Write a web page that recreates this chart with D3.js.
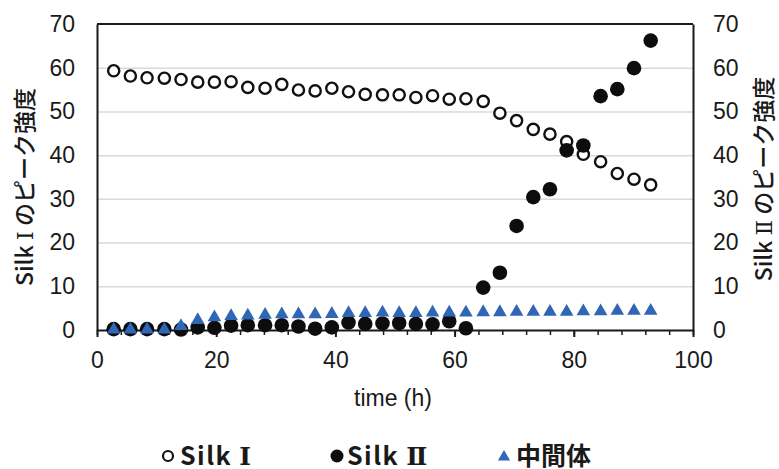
<!DOCTYPE html>
<html>
<head>
<meta charset="utf-8">
<script src="https://cdn.jsdelivr.net/npm/d3@7"></script>
<style>
  body { margin: 0; background: #fff; }
  svg text { fill: #1a1a1a; }
  .tick-label { font-family: "Liberation Sans", Arial, sans-serif; font-size: 23px; }
  .axis-title { font-family: "Noto Sans CJK JP", "Liberation Sans", sans-serif; font-size: 23px; font-weight: 500; }
  .legend-text { font-family: "Noto Sans CJK JP", "Liberation Sans", sans-serif; font-size: 25px; font-weight: bold; }
  .legend-latin { letter-spacing: 1.5px; }
  .roman { font-family: "DejaVu Serif", "Liberation Serif", serif; }
</style>
</head>
<body>
<div id="chart"></div>
<script>
// time (h) of each measurement
const times = [2.8, 5.6, 8.4, 11.3, 14.1, 16.9, 19.7, 22.5, 25.3, 28.2, 31.0,
  33.8, 36.6, 39.4, 42.2, 45.0, 47.9, 50.7, 53.5, 56.3, 59.1, 61.9, 64.8,
  67.6, 70.4, 73.2, 76.0, 78.8, 81.6, 84.5, 87.3, 90.1, 92.9];

const silk1 = [59.3, 58.1, 57.7, 57.6, 57.3, 56.7, 56.7, 56.8, 55.5, 55.3, 56.2,
  54.9, 54.7, 55.3, 54.5, 53.9, 53.8, 53.8, 53.2, 53.6, 52.8, 52.9, 52.3,
  49.6, 47.9, 45.9, 44.8, 43.1, 40.2, 38.5, 35.8, 34.5, 33.2];

const silk2 = [0.2, 0.2, 0.2, 0.2, 0.1, 0.6, 0.5, 1.0, 1.1, 1.1, 1.1,
  0.8, 0.3, 0.6, 1.7, 1.4, 1.5, 1.6, 1.4, 1.3, 2.0, 0.4, 9.7,
  13.1, 23.8, 30.4, 32.2, 41.1, 42.2, 53.5, 55.1, 59.9, 66.2];

const intermediate = [0.3, 0.3, 0.3, 0.3, 1.1, 2.5, 3.1, 3.4, 3.5, 3.7, 3.8,
  3.8, 3.8, 3.9, 4.1, 4.1, 4.2, 4.1, 4.1, 4.2, 4.2, 4.2, 4.3,
  4.3, 4.4, 4.4, 4.4, 4.4, 4.5, 4.5, 4.6, 4.6, 4.6];

const xTicks = [0, 20, 40, 60, 80, 100];
const yTicks = [0, 10, 20, 30, 40, 50, 60, 70];

const W = 779, H = 469;
const plot = { left: 97, right: 693, top: 24, bottom: 330 };
const blue = "#2f66b5";

const svg = d3.select("#chart").append("svg")
  .attr("width", W).attr("height", H);

const x = d3.scaleLinear().domain([0, 100]).range([plot.left, plot.right]);
const y = d3.scaleLinear().domain([0, 70]).range([plot.bottom, plot.top]);

// gridlines
svg.append("g")
  .attr("transform", `translate(${plot.left},0)`)
  .call(d3.axisLeft(y).tickValues(yTicks.slice(1, -1)).tickSize(-(plot.right - plot.left)).tickFormat(""))
  .call(g => g.select(".domain").remove())
  .call(g => g.selectAll("line").attr("stroke", "#d9d9d9").attr("stroke-width", 1.5));

// frame top
svg.append("line")
  .attr("x1", plot.left).attr("x2", plot.right).attr("y1", plot.top).attr("y2", plot.top)
  .attr("stroke", "#1a1a1a").attr("stroke-width", 2);

// y axes (labels only, black axis line)
const yLeft = svg.append("g")
  .attr("transform", `translate(${plot.left},0)`)
  .call(d3.axisLeft(y).tickValues(yTicks).tickSize(0).tickPadding(22));
const yRight = svg.append("g")
  .attr("transform", `translate(${plot.right},0)`)
  .call(d3.axisRight(y).tickValues(yTicks).tickSize(0).tickPadding(20));

// x axis: minor ticks every 4 h, major every 20 h
const minorTicks = d3.range(0, 101, 4);
svg.append("g")
  .attr("transform", `translate(0,${plot.bottom})`)
  .call(d3.axisBottom(x).tickValues(minorTicks).tickSize(5).tickFormat(""))
  .call(g => g.select(".domain").remove())
  .call(g => g.selectAll("line").attr("stroke", "#1a1a1a").attr("stroke-width", 1.5));

const xAxis = svg.append("g")
  .attr("transform", `translate(0,${plot.bottom})`)
  .call(d3.axisBottom(x).tickValues(xTicks).tickSize(7).tickPadding(10).tickSizeOuter(0));

[yLeft, yRight, xAxis].forEach(g => {
  g.select(".domain").attr("stroke", "#1a1a1a").attr("stroke-width", 2);
  g.selectAll("line").attr("stroke", "#1a1a1a").attr("stroke-width", 2);
  g.selectAll("text").attr("class", "tick-label").attr("fill", "#1a1a1a");
});
xAxis.selectAll("text").attr("dy", "0.9em");

// text with a serif roman numeral, like the original
function labelWithRoman(sel, before, roman, after) {
  sel.append("tspan").text(before);
  sel.append("tspan").attr("class", "roman").text(roman);
  if (after) sel.append("tspan").text(after);
  return sel;
}

// axis titles
labelWithRoman(svg.append("text")
  .attr("class", "axis-title")
  .attr("text-anchor", "middle")
  .attr("transform", `translate(33,187) rotate(-90)`), "Silk ", "Ⅰ", " のピーク強度");

labelWithRoman(svg.append("text")
  .attr("class", "axis-title")
  .attr("text-anchor", "middle")
  .attr("transform", `translate(772,179) rotate(-90)`), "Silk ", "Ⅱ", " のピーク強度");

svg.append("text")
  .attr("class", "tick-label")
  .attr("text-anchor", "middle")
  .attr("x", 393).attr("y", 406)
  .text("time (h)");

// series
const pts = (vals) => times.map((t, i) => [t, vals[i]]);

svg.append("g").selectAll("circle")
  .data(pts(silk1))
  .join("circle")
  .attr("cx", d => x(d[0])).attr("cy", d => y(d[1]))
  .attr("r", 5.6)
  .attr("fill", "#fff").attr("stroke", "#111").attr("stroke-width", 2.4);

svg.append("g").selectAll("circle")
  .data(pts(silk2))
  .join("circle")
  .attr("cx", d => x(d[0])).attr("cy", d => y(d[1]))
  .attr("r", 7.3)
  .attr("fill", "#0d0d0d");

const tri = d3.symbol().type(d3.symbolTriangle).size(80);
svg.append("g").selectAll("path")
  .data(pts(intermediate))
  .join("path")
  .attr("d", tri)
  .attr("transform", d => `translate(${x(d[0])},${y(d[1]) + 1})`)
  .attr("fill", blue);

// legend
const legY = 456;
const legend = svg.append("g");
legend.append("circle").attr("cx", 168).attr("cy", legY).attr("r", 5)
  .attr("fill", "#fff").attr("stroke", "#111").attr("stroke-width", 2.2);
labelWithRoman(legend.append("text").attr("class", "legend-text legend-latin")
  .attr("x", 180).attr("y", legY + 9), "Silk ", "Ⅰ");
legend.append("circle").attr("cx", 337).attr("cy", legY).attr("r", 6.5).attr("fill", "#0d0d0d");
labelWithRoman(legend.append("text").attr("class", "legend-text legend-latin")
  .attr("x", 347).attr("y", legY + 9), "Silk ", "Ⅱ");
legend.append("path").attr("d", d3.symbol().type(d3.symbolTriangle).size(64))
  .attr("transform", `translate(504,${legY + 1})`).attr("fill", blue);
legend.append("text").attr("class", "legend-text").attr("x", 516).attr("y", legY + 9).text("中間体");
</script>
</body>
</html>
